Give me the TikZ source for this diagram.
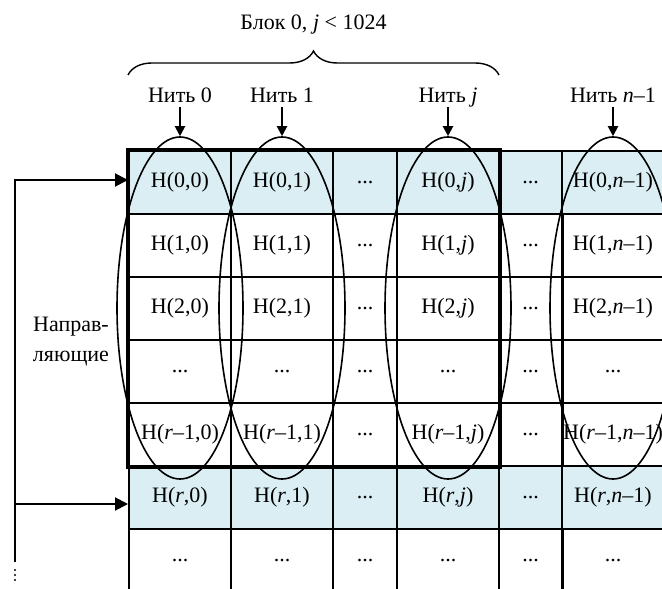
\documentclass[tikz,border=0pt]{standalone}
\usepackage{fontspec}
\setmainfont{Liberation Serif}
\usetikzlibrary{arrows.meta,shapes.geometric,decorations.pathreplacing}

\definecolor{rowblue}{HTML}{DAEEF3}

% one row of six cells: index, y, extra style, six texts
\newcommand\gridrow[9]{%
  \node[cell,wide,#3]   (c#1-0) at (180,#2)   {#4};
  \node[cell,wide,#3]   (c#1-1) at (282,#2)   {#5};
  \node[cell,narrow,#3] (c#1-2) at (365,#2)   {#6};
  \node[cell,wide,#3]   (c#1-3) at (448,#2)   {#7};
  \node[cell,narrow,#3] (c#1-4) at (530.5,#2) {#8};
  \node[cell,wide,#3]   (c#1-5) at (613,#2)   {#9};
}

\begin{document}
\begin{tikzpicture}[x=0.5pt,y=-0.5pt,
  font=\fontsize{11pt}{15pt}\selectfont,
  cell/.style={draw,line width=1pt,inner sep=0pt,minimum height=31.5pt},
  wide/.style={minimum width=51pt},
  narrow/.style={minimum width=32pt},
  shaded/.style={fill=rowblue},
  plain/.style={},
  thread/.style={draw,ellipse,line width=0.8pt,inner sep=0pt,
                 minimum width=63pt,minimum height=171pt},
  tlabel/.style={inner sep=0pt,outer sep=2pt,text depth=0pt,anchor=base},
  tarrow/.style={line width=1pt,-{Triangle[length=5pt,width=5pt]}},
  larrow/.style={line width=1pt,-{Triangle[length=6.5pt,width=6.5pt]}},
  frame/.style={line width=1.75pt}]

\useasboundingbox (0,0) rectangle (662,588);
\clip (0,0) rectangle (662,588);

% the matrix of elements
\gridrow{0}{182.5}{shaded}{H(0,0)}{H(0,1)}{...}{H(0,\textit{j})}{...}{H(0,\textit{n}--1)}
\gridrow{1}{245.5}{plain}{H(1,0)}{H(1,1)}{...}{H(1,\textit{j})}{...}{H(1,\textit{n}--1)}
\gridrow{2}{308.5}{plain}{H(2,0)}{H(2,1)}{...}{H(2,\textit{j})}{...}{H(2,\textit{n}--1)}
\gridrow{3}{371.5}{plain}{...}{...}{...}{...}{...}{...}
\gridrow{4}{434.5}{plain}{H(\textit{r}--1,0)}{H(\textit{r}--1,1)}{...}{H(\textit{r}--1,\textit{j})}{...}{H(\textit{r}--1,\textit{n}--1)}
\gridrow{5}{497.5}{shaded}{H(\textit{r},0)}{H(\textit{r},1)}{...}{H(\textit{r},\textit{j})}{...}{H(\textit{r},\textit{n}--1)}
\gridrow{6}{560.5}{plain}{...}{...}{...}{...}{...}{...}

% block frame
\draw[frame] (c0-0.north west) rectangle (c4-3.south east);

% threads
\node[thread] (e0) at (180,308) {};
\node[thread] (e1) at (282,308) {};
\node[thread] (ej) at (448,308) {};
\node[thread] (en) at (613,308) {};

\node[tlabel] (t0) at (180,103) {Нить 0};
\node[tlabel] (t1) at (282,103) {Нить 1};
\node[tlabel] (tj) at (448,103) {Нить \textit{j}};
\node[tlabel] (tn) at (613,103) {Нить \textit{n}--1};

\draw[tarrow] (t0.south) -- (e0.north);
\draw[tarrow] (t1.south) -- (e1.north);
\draw[tarrow] (tj.south) -- (ej.north);
\draw[tarrow] (tn.south) -- (en.north);

% block brace
\coordinate (b1) at (128,75);
\coordinate (b2) at (499,75);
\draw[line width=0.7pt,decorate,decoration={brace,amplitude=12pt}] (b1) -- (b2);
\node (blk) at (313.5,25) {Блок 0, \textit{j} < 1024};

% guiding rows
\coordinate (l1) at (15,180);
\coordinate (l2) at (15,504);
\coordinate (lend) at (15,562);
\draw[larrow] (lend) |- (c0-0.west |- l1);
\draw[larrow] (l2) -- (l2 -| c5-0.west);
\foreach \d in {570,575,580} \fill (15,\d) circle (0.6pt);
\node[align=center,inner sep=0pt] (lbl) at (71,342) {Направ-\\ляющие};

\end{tikzpicture}
\end{document}
